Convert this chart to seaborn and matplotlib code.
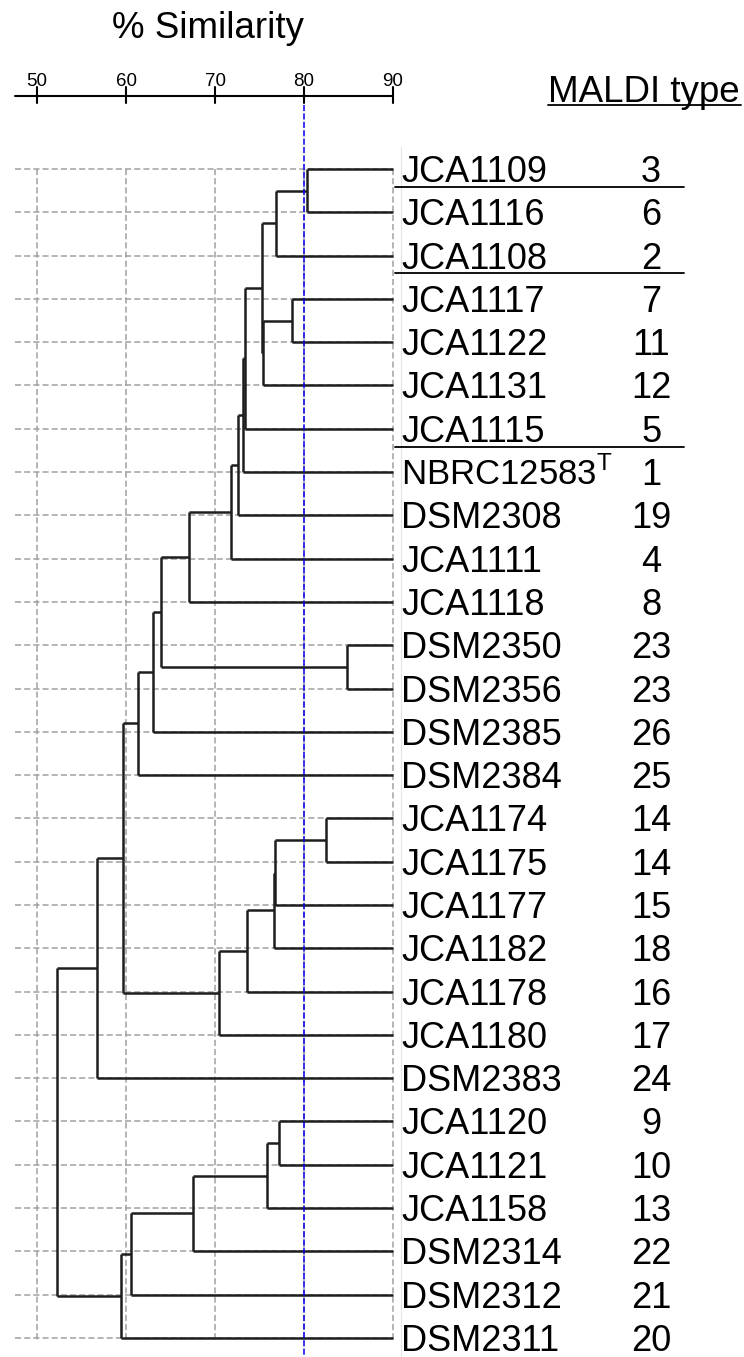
import matplotlib
matplotlib.use("Agg")
import matplotlib.pyplot as plt
import seaborn as sns

# Isolates (top to bottom) and MALDI types
strains = ["JCA1109", "JCA1116", "JCA1108", "JCA1117", "JCA1122", "JCA1131",
           "JCA1115", "NBRC12583$^{\\mathrm{T}}$", "DSM2308", "JCA1111", "JCA1118",
           "DSM2350", "DSM2356", "DSM2385", "DSM2384", "JCA1174", "JCA1175",
           "JCA1177", "JCA1182", "JCA1178", "JCA1180", "DSM2383", "JCA1120",
           "JCA1121", "JCA1158", "DSM2314", "DSM2312", "DSM2311"]
maldi_type = [3, 6, 2, 7, 11, 12, 5, 1, 19, 4, 8, 23, 23, 26, 25, 14, 14,
              15, 18, 16, 17, 24, 9, 10, 13, 22, 21, 20]

# Merge table: node 28+k joins merge_a[k] and merge_b[k] at merge_sim[k] (% similarity)
merge_a = [0, 28, 3, 30, 29, 32, 33, 34, 35, 36, 11, 37, 39, 40,
           15, 42, 43, 44, 45, 41, 47, 22, 49, 50, 51, 52, 48]
merge_b = [1, 2, 4, 5, 31, 6, 7, 8, 9, 10, 12, 38, 13, 14,
           16, 17, 18, 19, 20, 46, 21, 23, 24, 25, 26, 27, 53]
merge_sim = [80.3, 76.9, 78.7, 75.4, 75.3, 73.4, 73.1, 72.6, 71.8, 67.1, 84.8, 63.9,
             63.0, 61.4, 82.5, 76.7, 76.6, 73.6, 70.4, 59.7, 56.7, 77.2, 75.8,
             67.5, 60.6, 59.4, 52.2]

# groups separated by a line under these rows
separator_after = [0, 2, 6]

axis_ticks = [50, 60, 70, 80, 90]
cutoff = 80

sns.set_style("white")
plt.rcParams["font.family"] = ["Liberation Sans", "DejaVu Sans"]
plt.rcParams["mathtext.fontset"] = "custom"
plt.rcParams["mathtext.rm"] = "Liberation Sans"
plt.rcParams["text.color"] = "black"

fig = plt.figure(figsize=(7.44, 13.57), dpi=100)
ax = fig.add_axes([0, 0, 1, 1])
ax.set_xlim(45.84, 129.44)
ax.set_ylim(27.44, -3.903)
ax.axis("off")

n = len(strains)
leaf_end = axis_ticks[-1]
left_end = 47.53

# background dashed grid
grid_kw = dict(color="#a0a0a0", lw=1.1, ls=(0, (4, 2)), zorder=1)
for i in range(n):
    ax.plot([left_end, leaf_end], [i, i], **grid_kw)
for t in axis_ticks:
    ax.plot([t, t], [0, n - 0.9], **grid_kw)
ax.plot([leaf_end + 0.9, leaf_end + 0.9], [-0.5, n - 0.56], color="#e4e4e4", lw=0.8, zorder=1)

# dendrogram
ypos = {i: float(i) for i in range(n)}
xpos = {i: float(leaf_end) for i in range(n)}
line_kw = dict(color="#1e1e1e", lw=1.8, solid_capstyle="butt", zorder=3)
for k, (a, b, s) in enumerate(zip(merge_a, merge_b, merge_sim)):
    node = n + k
    for c in (a, b):
        ax.plot([xpos[c], s], [ypos[c], ypos[c]], **line_kw)
    ax.plot([s, s], [ypos[a], ypos[b]], **line_kw)
    ypos[node] = (ypos[a] + ypos[b]) / 2
    xpos[node] = s

# cut-off line
ax.plot([cutoff, cutoff], [-1.478, 27.44], color="#0000ee", lw=1.1,
        ls=(0, (4, 1.5)), zorder=4)

# similarity scale at the top
ax.plot([left_end, leaf_end], [-1.686, -1.686], color="black", lw=1.5)
for t in axis_ticks:
    ax.plot([t, t], [-1.894, -1.524], color="black", lw=1.5)
    ax.text(t, -1.917, str(t), ha="center", va="baseline", fontsize=13.5)
ax.text(69.2, -3.025, "% Similarity", ha="center", va="baseline", fontsize=26.5)

# labels
for i, (name, mt) in enumerate(zip(strains, maldi_type)):
    fs = 25 if "NBRC" in name else 26
    ax.text(90.9, i + 0.3, name, ha="left", va="baseline", fontsize=fs)
    ax.text(119.0, i + 0.3, str(mt), ha="center", va="baseline", fontsize=26)
for r in separator_after:
    ax.plot([90.22, 122.7], [r + 0.41, r + 0.41], color="black", lw=1.3)

ax.text(107.42, -1.554, "MALDI type", ha="left", va="baseline", fontsize=26.5)
ax.plot([107.42, 129.1], [-1.47, -1.47], color="black", lw=1.3)

fig.savefig("out.png", dpi=100)
